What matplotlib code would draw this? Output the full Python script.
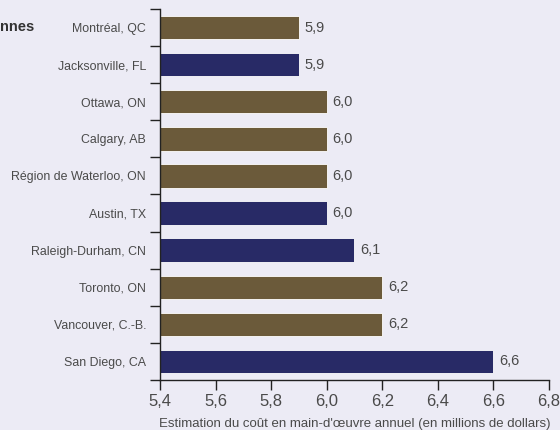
import matplotlib.pyplot as plt
import numpy as np

cities = ['Montréal, QC', 'Jacksonville, FL', 'Ottawa, ON', 'Calgary, AB',
          'Région de Waterloo, ON', 'Austin, TX', 'Raleigh-Durham, CN',
          'Toronto, ON', 'Vancouver, C.-B.', 'San Diego, CA']
costs = [5.9, 5.9, 6.0, 6.0, 6.0, 6.0, 6.1, 6.2, 6.2, 6.6]
canadian = [True, False, True, True, True, False, False, True, True, False]
xticks = [5.4, 5.6, 5.8, 6.0, 6.2, 6.4, 6.6, 6.8]

bg = '#ecebf5'
brown = '#6b5a3a'
navy = '#282a66'
grey = '#4a4a4a'

plt.rcParams['font.family'] = ['Liberation Sans', 'DejaVu Sans']

fig = plt.figure(figsize=(5.6, 4.3), dpi=100, facecolor=bg)
ax = fig.add_axes([160 / 560, 1 - 380 / 430, 389 / 560, 371 / 430])
ax.set_facecolor(bg)

y = np.arange(len(cities))
colors = [brown if c else navy for c in canadian]
ax.barh(y, costs, height=0.63, color=colors, edgecolor='white', linewidth=0.6)

for yi, v in zip(y, costs):
    ax.text(v + 0.02, yi, f'{v:.1f}'.replace('.', ','), va='center', ha='left',
            fontsize=10.5, color=grey)

ax.set_xlim(5.4, 6.8)
ax.set_ylim(len(cities) - 0.5, -0.5)

ax.set_yticks(y)
ax.set_yticklabels(cities, fontsize=8.9, color=grey)
ax.set_yticks(np.arange(len(cities) + 1) - 0.5, minor=True)
ax.tick_params(axis='y', which='major', length=0, pad=10)
ax.tick_params(axis='y', which='minor', length=7, width=1, color='#222222')

ax.set_xticks(xticks)
ax.set_xticklabels([f'{t:.1f}'.replace('.', ',') for t in xticks], fontsize=12, color=grey)
ax.tick_params(axis='x', length=7, width=1, color='#222222', pad=3)
ax.set_xlabel("Estimation du coût en main-d'œuvre annuel (en millions de dollars)",
              fontsize=9.5, color=grey, labelpad=6.5)

for s in ['top', 'right']:
    ax.spines[s].set_visible(False)
for s in ['left', 'bottom']:
    ax.spines[s].set_color('#222222')
    ax.spines[s].set_linewidth(1)

fig.text(0.0, 1 - 27 / 430, 'nnes', fontsize=10.5, fontweight='bold', color='#333333',
         ha='left', va='center')

plt.savefig('out.png', facecolor=bg)
